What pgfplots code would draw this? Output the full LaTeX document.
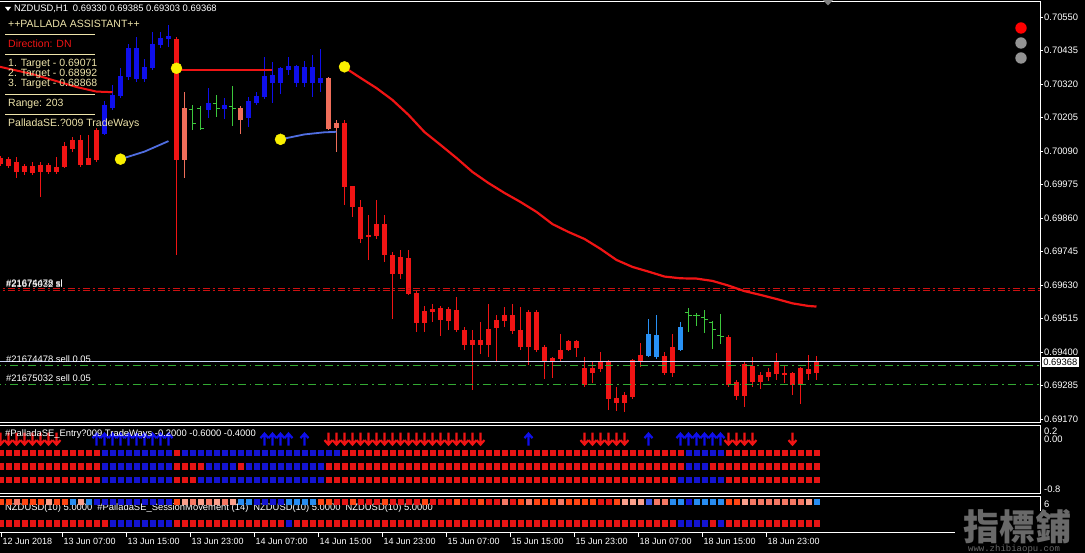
\documentclass[border=0pt]{standalone}
\usepackage{pgfplots}
\pgfplotsset{compat=1.18}
\usepackage{pgfplotstable}
\usepackage{fontspec}
\setmainfont{Liberation Sans}
\newfontfamily\cjk{Noto Sans CJK TC}
\newfontfamily\mono{Liberation Mono}

\definecolor{cR}{RGB}{240,20,20}
\definecolor{cB}{RGB}{15,15,235}
\definecolor{cS}{RGB}{240,110,90}
\definecolor{cD}{RGB}{40,145,245}
\definecolor{cG}{RGB}{60,200,60}
\definecolor{cY}{RGB}{250,240,0}
\definecolor{cL}{RGB}{80,110,225}
\definecolor{cT}{RGB}{238,228,170}
\definecolor{sqR}{RGB}{230,20,20}
\definecolor{sqB}{RGB}{20,20,210}
\definecolor{oRed}{RGB}{255,70,20}
\definecolor{oSal}{RGB}{245,120,100}
\definecolor{oLs}{RGB}{250,160,140}
\definecolor{oDod}{RGB}{40,140,240}
\definecolor{oRoy}{RGB}{60,90,230}
\definecolor{cW}{RGB}{105,105,105}

\newcommand\hf{\fontsize{9.4}{10}\selectfont}
\newcommand\pf{\fontsize{10.5}{11}\selectfont}
\newcommand\df{\fontsize{9}{10}\selectfont}

% candles: k high low bodytop bodybottom
\pgfplotstableread{
k h l t b
0 0.70073 0.70040 0.70065 0.70045
1 0.70070 0.70031 0.70062 0.70040
2 0.70069 0.69997 0.70053 0.70019
3 0.70045 0.70008 0.70038 0.70017
4 0.70053 0.70010 0.70040 0.70017
5 0.70053 0.69933 0.70042 0.70017
6 0.70051 0.70010 0.70042 0.70019
7 0.70070 0.70010 0.70036 0.70019
8 0.70122 0.70031 0.70107 0.70036
9 0.70139 0.70088 0.70128 0.70099
10 0.70145 0.70036 0.70131 0.70042
11 0.70145 0.70042 0.70067 0.70044
12 0.70168 0.70053 0.70162 0.70059
22 0.70482 0.69733 0.70477 0.70059
43 0.70196 0.69905 0.70185 0.69967
44 0.69973 0.69864 0.69970 0.69899
45 0.69922 0.69773 0.69899 0.69790
46 0.69870 0.69716 0.69802 0.69795
47 0.69925 0.69790 0.69839 0.69798
48 0.69870 0.69710 0.69842 0.69733
49 0.69744 0.69516 0.69733 0.69668
50 0.69750 0.69653 0.69727 0.69668
51 0.69750 0.69596 0.69724 0.69601
52 0.69615 0.69470 0.69604 0.69499
53 0.69561 0.69470 0.69541 0.69499
54 0.69565 0.69504 0.69550 0.69538
55 0.69561 0.69458 0.69550 0.69510
56 0.69555 0.69476 0.69547 0.69507
57 0.69590 0.69470 0.69546 0.69476
58 0.69487 0.69407 0.69478 0.69424
59 0.69476 0.69270 0.69441 0.69424
60 0.69504 0.69395 0.69441 0.69424
61 0.69567 0.69384 0.69481 0.69424
62 0.69527 0.69367 0.69510 0.69485
63 0.69555 0.69487 0.69527 0.69507
64 0.69565 0.69464 0.69527 0.69473
65 0.69555 0.69407 0.69476 0.69416
66 0.69544 0.69355 0.69538 0.69418
67 0.69544 0.69401 0.69538 0.69409
68 0.69424 0.69310 0.69418 0.69370
69 0.69384 0.69310 0.69379 0.69370
70 0.69462 0.69367 0.69409 0.69378
71 0.69441 0.69404 0.69439 0.69407
72 0.69443 0.69384 0.69439 0.69413
73 0.69382 0.69281 0.69344 0.69287
74 0.69367 0.69293 0.69344 0.69329
75 0.69401 0.69332 0.69367 0.69341
76 0.69373 0.69201 0.69367 0.69238
77 0.69281 0.69199 0.69243 0.69226
78 0.69264 0.69195 0.69252 0.69226
79 0.69378 0.69241 0.69373 0.69246
80 0.69430 0.69350 0.69390 0.69367
83 0.69401 0.69321 0.69386 0.69327
84 0.69464 0.69313 0.69416 0.69327
91 0.69458 0.69281 0.69453 0.69287
92 0.69304 0.69235 0.69298 0.69249
93 0.69367 0.69212 0.69359 0.69249
94 0.69384 0.69281 0.69355 0.69298
95 0.69332 0.69275 0.69321 0.69298
96 0.69347 0.69302 0.69332 0.69315
97 0.69398 0.69307 0.69367 0.69325
98 0.69355 0.69293 0.69327 0.69321
99 0.69332 0.69252 0.69327 0.69287
100 0.69350 0.69224 0.69344 0.69287
101 0.69390 0.69304 0.69341 0.69327
102 0.69385 0.69303 0.69368 0.69330
}\tR
\pgfplotstableread{
k h l t b
13 0.70262 0.70145 0.70248 0.70151
14 0.70317 0.70231 0.70285 0.70239
15 0.70374 0.70273 0.70349 0.70282
16 0.70460 0.70334 0.70443 0.70345
17 0.70482 0.70328 0.70445 0.70337
18 0.70408 0.70328 0.70379 0.70337
19 0.70500 0.70368 0.70457 0.70376
20 0.70500 0.70443 0.70479 0.70456
21 0.70523 0.70447 0.70485 0.70474
26 0.70306 0.70203 0.70254 0.70231
28 0.70272 0.70203 0.70248 0.70234
31 0.70276 0.70173 0.70262 0.70202
32 0.70294 0.70248 0.70279 0.70257
33 0.70414 0.70271 0.70348 0.70276
34 0.70397 0.70254 0.70351 0.70323
35 0.70379 0.70288 0.70374 0.70323
36 0.70414 0.70351 0.70382 0.70371
37 0.70385 0.70311 0.70382 0.70323
38 0.70399 0.70311 0.70379 0.70323
39 0.70420 0.70276 0.70379 0.70323
40 0.70443 0.70294 0.70343 0.70323
}\tB
\pgfplotstableread{
k h l t b
23 0.70294 0.69996 0.70237 0.70059
30 0.70245 0.70151 0.70237 0.70196
41 0.70345 0.70162 0.70340 0.70168
42 0.70196 0.70088 0.70185 0.70170
}\tS
\pgfplotstableread{
k h l t b
81 0.69516 0.69384 0.69461 0.69386
82 0.69527 0.69378 0.69461 0.69384
85 0.69504 0.69404 0.69487 0.69409
}\tD
% OHLC bars: k high low open close
\pgfplotstableread{
k h l o c
24 0.70248 0.70162 0.70234 0.70185
25 0.70246 0.70162 0.70237 0.70168
27 0.70282 0.70208 0.70254 0.70237
29 0.70314 0.70179 0.70242 0.70237
86 0.69550 0.69470 0.69537 0.69527
87 0.69535 0.69489 0.69527 0.69524
88 0.69544 0.69464 0.69520 0.69510
89 0.69507 0.69409 0.69500 0.69476
90 0.69531 0.69428 0.69455 0.69452
}\tG

\newcommand{\candles}[2]{%
  \addplot[draw=none, mark=none, forget plot, error bars/.cd, y dir=both, y explicit, error mark=none,
    error bar style={draw=#2, line width=1pt}]
    table[x=k, y expr={(\thisrow{h}+\thisrow{l})/2}, y error expr={(\thisrow{h}-\thisrow{l})/2}] {#1};
  \addplot[draw=none, mark=none, forget plot, error bars/.cd, y dir=both, y explicit, error mark=none,
    error bar style={draw=#2, line width=5pt}]
    table[x=k, y expr={(\thisrow{t}+\thisrow{b})/2}, y error expr={(\thisrow{t}-\thisrow{b})/2}] {#1};
}

\pgfdeclareplotmark{dnar}{%
  \pgfsetlinewidth{2.2pt}\pgfsetmiterjoin
  \pgfpathmoveto{\pgfqpoint{0pt}{6.5pt}}\pgfpathlineto{\pgfqpoint{0pt}{-5pt}}%
  \pgfpathmoveto{\pgfqpoint{-4pt}{-1pt}}\pgfpathlineto{\pgfqpoint{0pt}{-5.5pt}}\pgfpathlineto{\pgfqpoint{4pt}{-1pt}}%
  \pgfusepathqstroke}
\pgfdeclareplotmark{upar}{%
  \pgfsetlinewidth{2.2pt}\pgfsetmiterjoin
  \pgfpathmoveto{\pgfqpoint{0pt}{-6.5pt}}\pgfpathlineto{\pgfqpoint{0pt}{5pt}}%
  \pgfpathmoveto{\pgfqpoint{-4pt}{1pt}}\pgfpathlineto{\pgfqpoint{0pt}{5.5pt}}\pgfpathlineto{\pgfqpoint{4pt}{1pt}}%
  \pgfusepathqstroke}

% the left frame line sits just outside the page, as in the terminal window
\pgfplotsset{mt/.style={scale only axis, anchor=south west, width=1041pt,
  xmin=-0.1875, xmax=129.9375, axis line style={white, line width=0.8pt},
  xtick=\empty, ytick=\empty, tick style={white, line width=0.6pt},
  tick align=outside, major tick length=3pt}}

\begin{document}
\begin{tikzpicture}[x=1pt,y=1pt]
\fill[black] (0,0) rectangle (1085,553);

% sub-window 2 caption (under the squares)
\node[anchor=west, white, font=\hf, inner sep=0pt] at (5,45) {NZDUSD(10) 5.0000\hspace{5pt}\#PalladaSE\_SessionMovement (14)\hspace{5pt}NZDUSD(10) 5.0000\hspace{5pt}NZDUSD(10) 5.0000};

% ---- main price window
\begin{axis}[mt, at={(-1pt,130.5pt)}, height=421pt, ymin=0.691580, ymax=0.706033,
  ytick={0.70550,0.70435,0.70320,0.70205,0.70090,0.69975,0.69860,0.69745,0.69630,0.69515,0.69400,0.69285,0.69170},
  yticklabels={0.70550,0.70435,0.70320,0.70205,0.70090,0.69975,0.69860,0.69745,0.69630,0.69515,0.69400,0.69285,0.69170},
  ytick pos=right, yticklabel pos=right,
  yticklabel style={white, font=\hf, inner sep=1pt}]
\candles{\tR}{cR}
\candles{\tB}{cB}
\candles{\tS}{cS}
\candles{\tD}{cD}
\addplot[draw=none, mark=none, error bars/.cd, y dir=both, y explicit, error mark=none,
  error bar style={draw=cG, line width=1pt}]
  table[x=k, y expr={(\thisrow{h}+\thisrow{l})/2}, y error expr={(\thisrow{h}-\thisrow{l})/2}] {\tG};
\addplot[draw=none, mark=none, error bars/.cd, x dir=minus, x fixed=0.4, error mark=none,
  error bar style={draw=cG, line width=1pt}] table[x=k, y=o] {\tG};
\addplot[draw=none, mark=none, error bars/.cd, x dir=plus, x fixed=0.4, error mark=none,
  error bar style={draw=cG, line width=1pt}] table[x=k, y=c] {\tG};
% order lines
\addplot[cR!85!black, line width=1pt, dash pattern=on 7pt off 3pt on 2pt off 3pt] coordinates {(-1,0.69619) (131,0.69619)};
\addplot[cR!85!black, line width=1pt, dash pattern=on 7pt off 3pt on 2pt off 3pt] coordinates {(-1,0.69611) (131,0.69611)};
\addplot[white!70!cL, line width=0.8pt] coordinates {(-1,0.69368) (131,0.69368)};
\addplot[cG!85!black, line width=0.8pt, dash pattern=on 8pt off 4pt on 1.5pt off 4pt] coordinates {(-1,0.69353) (131,0.69353)};
\addplot[cG!85!black, line width=0.8pt, dash pattern=on 8pt off 4pt on 1.5pt off 4pt] coordinates {(-1,0.69288) (131,0.69288)};
% indicator lines
\addplot[cR, line width=2pt, mark=none] coordinates {(-0.06,0.70379) (4,0.70354) (9.6,0.70309) (12,0.70294) (14,0.70292)};
\addplot[cL, line width=1.8pt, mark=none] coordinates {(15,0.70062) (18,0.70088) (21,0.70124)};
\addplot[cR, line width=2pt, mark=none] coordinates {(22,0.70368) (34,0.70368)};
\addplot[cL, line width=1.8pt, mark=none] coordinates {(35,0.70130) (38,0.70147) (40.4,0.70154) (42,0.70156)};
\addplot[cR, line width=2.2pt, mark=none] coordinates {(43,0.70377) (45,0.70341) (47,0.70306) (49,0.70265) (51,0.70214) (53,0.70155) (55,0.70111) (57,0.70066) (59,0.70018) (61,0.69980) (63,0.69946) (65,0.69915) (67,0.69881) (69,0.69839) (71,0.69812) (73,0.69788) (75,0.69754) (77,0.69716) (79,0.69692) (81,0.69676) (83,0.69659) (85,0.69653) (87,0.69652) (89,0.69644) (91,0.69628) (93,0.69609) (95,0.69596) (97,0.69582) (99,0.69567) (101,0.69558) (102,0.69556)};
\addplot[only marks, mark=*, mark size=5.5pt, cY] coordinates {(15,0.70062) (22,0.70374) (35,0.70130) (43,0.70379)};
\end{axis}

% ---- sub-window 1: entry signals
\begin{axis}[mt, at={(-1pt,59.5pt)}, height=68pt, ymin=-0.8, ymax=0.2]
\addplot[only marks, mark=dnar, cR] coordinates {(0,0) (1,0) (2,0) (3,0) (4,0) (5,0) (6,0) (7,0) (41,0) (42,0) (43,0) (44,0) (45,0) (46,0) (47,0) (48,0) (49,0) (50,0) (51,0) (52,0) (53,0) (54,0) (55,0) (56,0) (57,0) (58,0) (59,0) (60,0) (73,0) (74,0) (75,0) (76,0) (77,0) (78,0) (91,0) (92,0) (93,0) (94,0) (99,0)};
\addplot[only marks, mark=upar, cB] coordinates {(12,0) (13,0) (14,0) (15,0) (16,0) (17,0) (18,0) (19,0) (20,0) (21,0) (33,0) (34,0) (35,0) (36,0) (38,0) (66,0) (81,0) (85,0) (86,0) (87,0) (88,0) (89,0) (90,0)};
% row -0.2
\addplot[only marks, mark=square*, mark size=2.7pt, sqR] coordinates {(0,-0.2) (1,-0.2) (2,-0.2) (3,-0.2) (4,-0.2) (5,-0.2) (6,-0.2) (7,-0.2) (8,-0.2) (9,-0.2) (10,-0.2) (11,-0.2) (12,-0.2) (22,-0.2) (43,-0.2) (44,-0.2) (45,-0.2) (46,-0.2) (47,-0.2) (48,-0.2) (49,-0.2) (50,-0.2) (51,-0.2) (52,-0.2) (53,-0.2) (54,-0.2) (55,-0.2) (56,-0.2) (57,-0.2) (58,-0.2) (59,-0.2) (60,-0.2) (61,-0.2) (62,-0.2) (63,-0.2) (64,-0.2) (65,-0.2) (66,-0.2) (67,-0.2) (68,-0.2) (69,-0.2) (70,-0.2) (71,-0.2) (72,-0.2) (73,-0.2) (74,-0.2) (75,-0.2) (76,-0.2) (77,-0.2) (78,-0.2) (79,-0.2) (80,-0.2) (81,-0.2) (82,-0.2) (83,-0.2) (84,-0.2) (85,-0.2) (91,-0.2) (92,-0.2) (93,-0.2) (94,-0.2) (95,-0.2) (96,-0.2) (97,-0.2) (98,-0.2) (99,-0.2) (100,-0.2) (101,-0.2) (102,-0.2)};
\addplot[only marks, mark=square*, mark size=2.7pt, sqB] coordinates {(13,-0.2) (14,-0.2) (15,-0.2) (16,-0.2) (17,-0.2) (18,-0.2) (19,-0.2) (20,-0.2) (21,-0.2) (23,-0.2) (24,-0.2) (25,-0.2) (26,-0.2) (27,-0.2) (28,-0.2) (29,-0.2) (30,-0.2) (31,-0.2) (32,-0.2) (33,-0.2) (34,-0.2) (35,-0.2) (36,-0.2) (37,-0.2) (38,-0.2) (39,-0.2) (40,-0.2) (41,-0.2) (42,-0.2) (86,-0.2) (87,-0.2) (88,-0.2) (89,-0.2) (90,-0.2)};
% row -0.4
\addplot[only marks, mark=square*, mark size=2.7pt, sqR] coordinates {(0,-0.4) (1,-0.4) (2,-0.4) (3,-0.4) (4,-0.4) (5,-0.4) (6,-0.4) (7,-0.4) (8,-0.4) (9,-0.4) (10,-0.4) (11,-0.4) (12,-0.4) (22,-0.4) (23,-0.4) (24,-0.4) (25,-0.4) (30,-0.4) (41,-0.4) (42,-0.4) (43,-0.4) (44,-0.4) (45,-0.4) (46,-0.4) (47,-0.4) (48,-0.4) (49,-0.4) (50,-0.4) (51,-0.4) (52,-0.4) (53,-0.4) (54,-0.4) (55,-0.4) (56,-0.4) (57,-0.4) (58,-0.4) (59,-0.4) (60,-0.4) (61,-0.4) (62,-0.4) (63,-0.4) (64,-0.4) (65,-0.4) (66,-0.4) (67,-0.4) (68,-0.4) (69,-0.4) (70,-0.4) (71,-0.4) (72,-0.4) (73,-0.4) (74,-0.4) (75,-0.4) (76,-0.4) (77,-0.4) (78,-0.4) (79,-0.4) (80,-0.4) (81,-0.4) (82,-0.4) (83,-0.4) (84,-0.4) (85,-0.4) (89,-0.4) (90,-0.4) (91,-0.4) (92,-0.4) (93,-0.4) (94,-0.4) (95,-0.4) (96,-0.4) (97,-0.4) (98,-0.4) (99,-0.4) (100,-0.4) (101,-0.4) (102,-0.4)};
\addplot[only marks, mark=square*, mark size=2.7pt, sqB] coordinates {(13,-0.4) (14,-0.4) (15,-0.4) (16,-0.4) (17,-0.4) (18,-0.4) (19,-0.4) (20,-0.4) (21,-0.4) (26,-0.4) (27,-0.4) (28,-0.4) (29,-0.4) (31,-0.4) (32,-0.4) (33,-0.4) (34,-0.4) (35,-0.4) (36,-0.4) (37,-0.4) (38,-0.4) (39,-0.4) (40,-0.4) (86,-0.4) (87,-0.4) (88,-0.4)};
% row -0.6
\addplot[only marks, mark=square*, mark size=2.7pt, sqR] coordinates {(0,-0.6) (1,-0.6) (2,-0.6) (3,-0.6) (4,-0.6) (5,-0.6) (6,-0.6) (7,-0.6) (8,-0.6) (9,-0.6) (10,-0.6) (11,-0.6) (12,-0.6) (22,-0.6) (23,-0.6) (24,-0.6) (41,-0.6) (42,-0.6) (43,-0.6) (44,-0.6) (45,-0.6) (46,-0.6) (47,-0.6) (48,-0.6) (49,-0.6) (50,-0.6) (51,-0.6) (52,-0.6) (53,-0.6) (54,-0.6) (55,-0.6) (56,-0.6) (57,-0.6) (58,-0.6) (59,-0.6) (60,-0.6) (61,-0.6) (62,-0.6) (63,-0.6) (64,-0.6) (65,-0.6) (66,-0.6) (67,-0.6) (68,-0.6) (69,-0.6) (70,-0.6) (71,-0.6) (72,-0.6) (73,-0.6) (74,-0.6) (75,-0.6) (76,-0.6) (77,-0.6) (78,-0.6) (79,-0.6) (80,-0.6) (81,-0.6) (82,-0.6) (83,-0.6) (84,-0.6) (91,-0.6) (92,-0.6) (93,-0.6) (94,-0.6) (95,-0.6) (96,-0.6) (97,-0.6) (98,-0.6) (99,-0.6) (100,-0.6) (101,-0.6) (102,-0.6)};
\addplot[only marks, mark=square*, mark size=2.7pt, sqB] coordinates {(13,-0.6) (14,-0.6) (15,-0.6) (16,-0.6) (17,-0.6) (18,-0.6) (19,-0.6) (20,-0.6) (21,-0.6) (25,-0.6) (26,-0.6) (27,-0.6) (28,-0.6) (29,-0.6) (30,-0.6) (31,-0.6) (32,-0.6) (33,-0.6) (34,-0.6) (35,-0.6) (36,-0.6) (37,-0.6) (38,-0.6) (39,-0.6) (40,-0.6) (85,-0.6) (86,-0.6) (87,-0.6) (88,-0.6) (89,-0.6) (90,-0.6)};
\end{axis}

% ---- sub-window 2: session movement
\begin{axis}[mt, at={(-1pt,20.3pt)}, height=36pt, ymin=0, ymax=6,
  xtick={0.0625,7.6875,15.6875,23.6875,31.6875,39.6875,47.6875,55.6875,63.6875,71.6875,79.6875,87.6875,95.6875},
  xticklabels={12 Jun 2018,13 Jun 07:00,13 Jun 15:00,13 Jun 23:00,14 Jun 07:00,14 Jun 15:00,14 Jun 23:00,15 Jun 07:00,15 Jun 15:00,15 Jun 23:00,18 Jun 07:00,18 Jun 15:00,18 Jun 23:00},
  xtick pos=bottom, major tick length=4pt,
  xticklabel style={anchor=north west, white, font=\df, inner sep=1pt, xshift=0.5pt}]
\addplot[only marks, mark=square*, mark size=2.7pt, oRed] coordinates {(0,5.2) (1,5.2) (3,5.2) (4,5.2) (5,5.2) (7,5.2) (8,5.2) (22,5.2) (40,5.2) (41,5.2) (44,5.2) (48,5.2) (53,5.2) (57,5.2) (60,5.2) (65,5.2) (67,5.2) (68,5.2) (69,5.2) (71,5.2) (72,5.2) (73,5.2) (74,5.2) (77,5.2) (91,5.2) (92,5.2)};
\addplot[only marks, mark=square*, mark size=2.7pt, oSal] coordinates {(2,5.2) (24,5.2) (26,5.2) (28,5.2) (63,5.2) (66,5.2) (70,5.2) (82,5.2) (83,5.2) (94,5.2) (95,5.2) (96,5.2) (97,5.2) (98,5.2) (99,5.2) (100,5.2)};
\addplot[only marks, mark=square*, mark size=2.7pt, oLs] coordinates {(6,5.2) (10,5.2) (23,5.2) (25,5.2) (27,5.2) (29,5.2) (78,5.2) (79,5.2) (80,5.2) (93,5.2) (101,5.2)};
\addplot[only marks, mark=square*, mark size=2.7pt, sqR] coordinates {(42,5.2) (43,5.2) (45,5.2) (46,5.2) (47,5.2) (49,5.2) (50,5.2) (51,5.2) (52,5.2) (54,5.2) (55,5.2) (56,5.2) (58,5.2) (59,5.2) (61,5.2) (62,5.2) (64,5.2) (75,5.2) (76,5.2)};
\addplot[only marks, mark=square*, mark size=2.7pt, oDod] coordinates {(9,5.2) (11,5.2) (30,5.2) (31,5.2) (36,5.2) (37,5.2) (38,5.2) (39,5.2) (84,5.2) (85,5.2) (87,5.2) (88,5.2) (89,5.2) (90,5.2) (102,5.2)};
\addplot[only marks, mark=square*, mark size=2.7pt, sqB] coordinates {(12,5.2) (13,5.2) (14,5.2) (15,5.2) (16,5.2) (17,5.2) (18,5.2) (19,5.2) (20,5.2) (21,5.2) (32,5.2) (33,5.2) (34,5.2) (35,5.2) (86,5.2)};
\addplot[only marks, mark=square*, mark size=2.7pt, oRoy] coordinates {(81,5.2)};
\addplot[only marks, mark=square*, mark size=2.7pt, sqR] coordinates {(0,1.6) (1,1.6) (2,1.6) (3,1.6) (4,1.6) (5,1.6) (6,1.6) (7,1.6) (8,1.6) (9,1.6) (10,1.6) (11,1.6) (12,1.6) (13,1.6) (22,1.6) (23,1.6) (24,1.6) (25,1.6) (26,1.6) (27,1.6) (28,1.6) (29,1.6) (30,1.6) (31,1.6) (32,1.6) (33,1.6) (34,1.6) (35,1.6) (37,1.6) (38,1.6) (39,1.6) (40,1.6) (41,1.6) (42,1.6) (43,1.6) (44,1.6) (45,1.6) (46,1.6) (47,1.6) (48,1.6) (49,1.6) (50,1.6) (51,1.6) (52,1.6) (53,1.6) (54,1.6) (55,1.6) (56,1.6) (57,1.6) (58,1.6) (59,1.6) (60,1.6) (61,1.6) (62,1.6) (63,1.6) (64,1.6) (65,1.6) (66,1.6) (67,1.6) (68,1.6) (69,1.6) (70,1.6) (71,1.6) (72,1.6) (73,1.6) (74,1.6) (75,1.6) (76,1.6) (77,1.6) (78,1.6) (79,1.6) (80,1.6) (81,1.6) (82,1.6) (83,1.6) (84,1.6) (89,1.6) (91,1.6) (92,1.6) (93,1.6) (94,1.6) (95,1.6) (96,1.6) (97,1.6) (98,1.6) (99,1.6) (100,1.6) (101,1.6) (102,1.6)};
\addplot[only marks, mark=square*, mark size=2.7pt, sqB] coordinates {(14,1.6) (15,1.6) (16,1.6) (17,1.6) (18,1.6) (19,1.6) (20,1.6) (21,1.6) (36,1.6) (85,1.6) (86,1.6) (87,1.6) (88,1.6) (90,1.6)};
\end{axis}

% ---- texts over the price window
\fill[white] (5,546) -- (11,546) -- (8,542) -- cycle;
\node[anchor=west, white, font=\hf, inner sep=0pt] at (14,544) {NZDUSD,H1\hspace{5pt}0.69330 0.69385 0.69303 0.69368};
\fill[gray] (823,553) -- (833,553) -- (828,547.5) -- cycle;
\begin{scope}[every node/.style={anchor=west, inner sep=0pt, font=\pf, text=cT}]
\node at (8,529) {++PALLADA ASSISTANT++};
\node[text=cR] at (8,509) {Direction: DN};
\node at (8,489) {1. Target - 0.69071};
\node at (8,479) {2. Target - 0.68992};
\node at (8,469) {3. Target - 0.68868};
\node at (8,449) {Range: 203};
\node at (8,429) {PalladaSE.?009 TradeWays};
\end{scope}
\foreach \yy in {519,499,459,439} \draw[cT, line width=0.8pt] (5,\yy) -- (95,\yy);
\begin{scope}[every node/.style={anchor=west, inner sep=0pt, font=\hf, text=white}]
\node at (6,269.5) {\#21674478 sl};
\node at (6,268.5) {\#21675032 sl};
\node at (6,193.7) {\#21674478 sell 0.05};
\node at (6,174.7) {\#21675032 sell 0.05};
\node at (5,119) {\#PalladaSE\_Entry?009 TradeWays -0.2000 -0.6000 -0.4000};
\node at (1044,122) {0.2};
\node at (1044,114) {0.00};
\node at (1044,64) {-0.8};
\node at (1044,49) {6};
\end{scope}
\node[anchor=west, fill=white, text=black, font=\hf, inner sep=1.2pt] at (1042,191) {0.69368};
\fill[red] (1021,525) circle (5.7);
\fill[gray!85] (1021,510) circle (5.7);
\fill[gray!85] (1021,495) circle (5.7);

% ---- watermark
\fill[black] (955,0) rectangle (1085,41.5);
\node[text=cW, font=\cjk\bfseries\fontsize{36}{36}\selectfont, inner sep=0pt] at (1017,26) {指標鋪};
\node[text=cW, font=\mono\fontsize{9}{9}\selectfont, inner sep=0pt] at (1014,3.5) {www.zhibiaopu.com};

\pgfresetboundingbox
\path (0,0) rectangle (1085,553);
\end{tikzpicture}
\end{document}
